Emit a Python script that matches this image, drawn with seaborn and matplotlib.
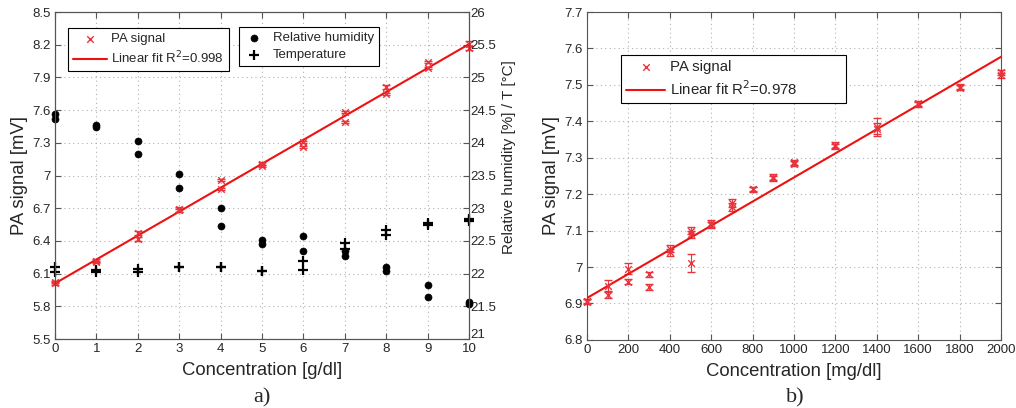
"""
Name
----
pa_signal_concentration.py
"""
import numpy as np
import pandas as pd
import matplotlib
matplotlib.use("Agg")
import matplotlib.pyplot as plt
import matplotlib.transforms as mtransforms
from matplotlib.ticker import FormatStrFormatter
import seaborn as sns

# Panel a) : glucose in g/dl, two measurements per concentration
conc_a = [0, 0, 1, 1, 2, 2, 3, 3, 4, 4, 5, 5, 6, 6, 7, 7, 8, 8, 9, 9, 10, 10]
pa_a = [6.02, 6.01, 6.22, 6.21, 6.47, 6.42, 6.69, 6.68, 6.96, 6.88, 7.11,
        7.09, 7.31, 7.26, 7.58, 7.49, 7.81, 7.75, 8.04, 7.99, 8.21, 8.17]
pa_a_err = [0.01, 0.01, 0.01, 0.01, 0.02, 0.02, 0.02, 0.01, 0.01, 0.01, 0.01,
            0.01, 0.01, 0.01, 0.01, 0.01, 0.02, 0.01, 0.01, 0.01, 0.02, 0.02]
humidity = [24.44, 24.36, 24.27, 24.24, 24.03, 23.83, 23.52, 23.31, 23.0, 22.73,
            22.51, 22.45, 22.57, 22.35, 22.35, 22.27, 22.1, 22.04, 21.83, 21.64,
            21.56, 21.54]
temperature = [22.1, 22.03, 22.05, 22.02, 22.07, 22.03, 22.1, 22.1, 22.1, 22.1,
               22.04, 22.04, 22.19, 22.05, 22.47, 22.38, 22.67, 22.59, 22.77,
               22.74, 22.83, 22.8]

# Panel b) : glucose in mg/dl
conc_b = [0, 0, 100, 100, 200, 200, 300, 300, 400, 400, 500, 500, 500, 600, 600,
          700, 700, 800, 800, 900, 900, 1000, 1000, 1200, 1200, 1400, 1400,
          1600, 1600, 1800, 1800, 2000, 2000]
pa_b = [6.907, 6.905, 6.948, 6.924, 6.995, 6.96, 6.98, 6.945, 7.05, 7.04, 7.10,
        7.09, 7.01, 7.12, 7.115, 7.176, 7.165, 7.215, 7.213, 7.247, 7.243,
        7.287, 7.284, 7.335, 7.332, 7.385, 7.38, 7.45, 7.447, 7.495, 7.492,
        7.535, 7.527]
pa_b_err = [0.006, 0.006, 0.015, 0.008, 0.015, 0.008, 0.007, 0.007, 0.01, 0.01,
            0.01, 0.01, 0.025, 0.01, 0.008, 0.01, 0.01, 0.006, 0.006, 0.007,
            0.007, 0.006, 0.006, 0.007, 0.007, 0.025, 0.015, 0.007, 0.007,
            0.007, 0.007, 0.007, 0.007]

ticks_a = [5.5, 5.8, 6.1, 6.4, 6.7, 7, 7.3, 7.6, 7.9, 8.2, 8.5]
ticks_a_right = [21, 21.5, 22, 22.5, 23, 23.5, 24, 24.5, 25, 25.5, 26]
ticks_b = [6.8, 6.9, 7, 7.1, 7.2, 7.3, 7.4, 7.5, 7.6, 7.7]

red_marker = "#e8343c"
red_line = "#ee1111"
serif = ["Liberation Serif", "DejaVu Serif"]

sns.set_style("ticks")
plt.rcParams["font.family"] = ["Liberation Sans", "DejaVu Sans"]
plt.rcParams["xtick.direction"] = "in"
plt.rcParams["ytick.direction"] = "in"
plt.rcParams["axes.edgecolor"] = "#555555"
plt.rcParams["axes.linewidth"] = 0.8


def style_axes(ax):
	ax.grid(True, linestyle=(0, (1, 3)), color="#b0b0b0", linewidth=0.8)
	ax.tick_params(labelsize=9.5, top=True, color="#555555", length=4, pad=3)
	ax.set_axisbelow(True)


def legend_frame(leg):
	leg.get_frame().set_edgecolor("black")
	leg.get_frame().set_linewidth(0.8)
	leg.get_frame().set_boxstyle("square", pad=0)


fig = plt.figure(figsize=(10.16, 4.08), dpi=100)
ax1 = fig.add_axes([0.0541, 0.169, 0.4075, 0.8015])
ax3 = fig.add_axes([0.5778, 0.167, 0.4075, 0.8035])

# ---------- panel a ----------
df_a = pd.DataFrame({"conc": conc_a, "pa": pa_a, "err": pa_a_err,
                     "rh": humidity, "t": temperature})
coef_a = np.polyfit(df_a["conc"], df_a["pa"], 1)
fit_x_a = np.array([df_a["conc"].min(), df_a["conc"].max()])

style_axes(ax1)
ax1.errorbar(df_a["conc"], df_a["pa"], yerr=df_a["err"], fmt="none",
             ecolor=red_marker, elinewidth=0.8, capsize=3, clip_on=False)
sns.scatterplot(x="conc", y="pa", data=df_a, ax=ax1, marker="x", s=22,
                color=red_marker, linewidth=1.0, label="PA signal",
                clip_on=False, zorder=3)
sns.lineplot(x=fit_x_a, y=np.polyval(coef_a, fit_x_a), ax=ax1, color=red_line,
             linewidth=1.5, label="Linear fit R$^2$=0.998")
ax1.set_xlim(0, 10)
ax1.set_ylim(5.5, 8.5)
ax1.set_xticks(range(0, 11))
ax1.set_yticks(ticks_a)
ax1.yaxis.set_major_formatter(FormatStrFormatter("%g"))
ax1.set_xlabel("Concentration [g/dl]", fontsize=13.3, labelpad=5)
ax1.set_ylabel("PA signal [mV]", fontsize=13.3)
ax1.yaxis.set_label_coords(-0.065, 0.5)
leg1 = ax1.legend(loc="upper left", bbox_to_anchor=(0.032, 0.95), fontsize=9.5,
                  fancybox=False, framealpha=1, handlelength=2.6,
                  borderaxespad=0, borderpad=0.35, labelspacing=0.35,
                  handletextpad=0.3)
legend_frame(leg1)

ax2 = ax1.twinx()
sns.scatterplot(x="conc", y="rh", data=df_a, ax=ax2, marker="o", s=26,
                color="black", edgecolor="black", label="Relative humidity",
                clip_on=False)
sns.scatterplot(x="conc", y="t", data=df_a, ax=ax2, marker="+", s=45,
                color="black", linewidth=1.6, label="Temperature",
                clip_on=False)
ax2.set_ylim(21, 26)
ax2.set_yticks(ticks_a_right)
ax2.yaxis.set_major_formatter(FormatStrFormatter("%g"))
ax2.tick_params(labelsize=9.5, direction="in", color="#555555", length=4, pad=1)
# lift the bottom "21" a little so it clears the x tick "10"
lift = mtransforms.ScaledTranslation(0, 4 / 72, fig.dpi_scale_trans)
bottom_label = ax2.get_yticklabels()[0]
bottom_label.set_transform(bottom_label.get_transform() + lift)
ax2.set_ylabel("Relative humidity [%] / T [°C]", fontsize=11)
ax2.yaxis.set_label_coords(1.08, 0.557)
leg2 = ax2.legend(loc="upper left", bbox_to_anchor=(0.445, 0.953), fontsize=9.5,
                  fancybox=False, framealpha=1, handlelength=1.6,
                  borderaxespad=0, borderpad=0.35, labelspacing=0.35,
                  handletextpad=0.6)
legend_frame(leg2)

# ---------- panel b ----------
df_b = pd.DataFrame({"conc": conc_b, "pa": pa_b, "err": pa_b_err})
coef_b = np.polyfit(df_b["conc"], df_b["pa"], 1)
fit_x_b = np.array([df_b["conc"].min(), df_b["conc"].max()])

style_axes(ax3)
ax3.tick_params(right=True)
ax3.errorbar(df_b["conc"], df_b["pa"], yerr=df_b["err"], fmt="none",
             ecolor=red_marker, elinewidth=0.8, capsize=3, clip_on=False)
sns.scatterplot(x="conc", y="pa", data=df_b, ax=ax3, marker="x", s=22,
                color=red_marker, linewidth=1.0, label="PA signal",
                clip_on=False, zorder=3)
sns.lineplot(x=fit_x_b, y=np.polyval(coef_b, fit_x_b), ax=ax3, color=red_line,
             linewidth=1.5, label="Linear fit R$^2$=0.978")
ax3.set_xlim(0, 2000)
ax3.set_ylim(6.8, 7.7)
ax3.set_xticks(range(0, 2001, 200))
ax3.set_yticks(ticks_b)
ax3.yaxis.set_major_formatter(FormatStrFormatter("%g"))
ax3.set_xlabel("Concentration [mg/dl]", fontsize=13.3, labelpad=5)
ax3.set_ylabel("PA signal [mV]", fontsize=13.3)
ax3.yaxis.set_label_coords(-0.065, 0.5)
leg3 = ax3.legend(loc="upper left", bbox_to_anchor=(0.082, 0.869, 0.5435, 0.0),
                  mode="expand", fontsize=10.8,
                  fancybox=False, framealpha=1, handlelength=2.6,
                  borderaxespad=0, borderpad=0.35, labelspacing=0.35,
                  handletextpad=0.3)
legend_frame(leg3)

fig.text(0.258, 0.025, "a)", fontsize=16, family=serif, ha="center", va="center")
fig.text(0.783, 0.025, "b)", fontsize=16, family=serif, ha="center", va="center")

plt.savefig("out.png", dpi=100)
